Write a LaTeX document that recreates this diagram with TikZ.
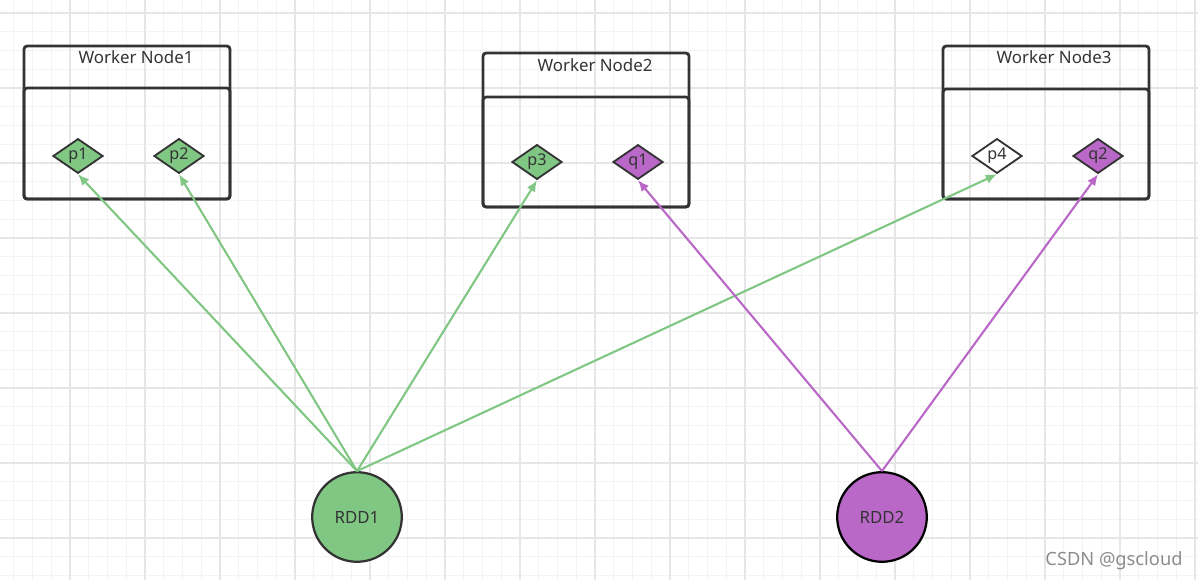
\documentclass[tikz,border=0pt]{standalone}
\usepackage{fontspec}
\setmainfont{Noto Sans}
\usetikzlibrary{shapes.geometric,arrows.meta}
\definecolor{rddgreen}{HTML}{81C784}
\definecolor{rddpurple}{HTML}{BA68C8}
\definecolor{boxline}{HTML}{333333}
\definecolor{gridminor}{HTML}{F3F3F3}
\definecolor{gridmajor}{HTML}{E6E6E6}
\tikzset{
	worker/.style={draw=boxline, line width=2pt, rounded corners=0.8mm},
	part/.style={diamond, draw=boxline, line width=1.3pt, minimum width=12.5mm, minimum height=7.4mm, inner sep=0pt, font=\fontsize{11.5}{13}\selectfont, text=boxline},
	rdd/.style={circle, draw=boxline, line width=1.6pt, minimum size=22.4mm, inner sep=0pt, font=\fontsize{12}{14}\selectfont, text=boxline},
	link/.style={-{Latex[length=2.8mm,width=2.4mm]}, line width=1.5pt},
}

\begin{document}
\begin{tikzpicture}[x=0.25mm, y=-0.25mm, font=\fontsize{12}{14}\selectfont]
	\useasboundingbox (0,0) rectangle (1198,580);

	% background grid
	\begin{scope}
		\clip (0,0) rectangle (1198,580);
		\foreach \i in {0,...,64} \draw[gridminor, line width=0.7pt] ({-5+18.75*\i},0) -- ++(0,580);
		\foreach \i in {0,...,31} \draw[gridminor, line width=0.7pt] (0,{-5.75+18.75*\i}) -- ++(1198,0);
		\foreach \i in {0,...,16} \draw[gridmajor, line width=0.9pt] ({-5+75*\i},0) -- ++(0,580);
		\foreach \i in {0,...,7} \draw[gridmajor, line width=0.9pt] (0,{13+75*\i}) -- ++(1198,0);
	\end{scope}

	% worker nodes
	\draw[worker] (24,46) rectangle (230,199);
	\draw[worker] (24,88) rectangle (230,199);
	\node[text=boxline] (title1) at (136,57) {Worker Node1};

	\draw[worker] (483,53) rectangle (689,207);
	\draw[worker] (483,97) rectangle (689,207);
	\node[text=boxline] (title2) at (595,65) {Worker Node2};

	\draw[worker] (943,46) rectangle (1149,199);
	\draw[worker] (943,89) rectangle (1149,199);
	\node[text=boxline] (title3) at (1054,57) {Worker Node3};

	% partitions
	\node[part, fill=rddgreen] (p1) at (78,156) {p1};
	\node[part, fill=rddgreen] (p2) at (179,156) {p2};
	\node[part, fill=rddgreen] (p3) at (537,162) {p3};
	\node[part, fill=rddpurple] (q1) at (638,162) {q1};
	\node[part, fill=white] (p4) at (997,156) {p4};
	\node[part, fill=rddpurple] (q2) at (1098,156) {q2};

	% RDDs
	\node[rdd, fill=rddgreen] (rdd1) at (357,517) {RDD1};
	\node[rdd, fill=rddpurple, draw=black] (rdd2) at (882,517) {RDD2};

	\draw[link, rddgreen] (rdd1.north) -- (p1.south);
	\draw[link, rddgreen] (rdd1.north) -- (p2.south);
	\draw[link, rddgreen] (rdd1.north) -- (p3.south);
	\draw[link, rddgreen] (rdd1.north) -- (p4.south);

	\draw[link, rddpurple] (rdd2.north) -- (q1.south);
	\draw[link, rddpurple] (rdd2.north) -- (q2.south);

	\node[text=black!45, font=\fontsize{13}{15}\selectfont] (mark) at (1114,561) {CSDN @gscloud};
\end{tikzpicture}
\end{document}
